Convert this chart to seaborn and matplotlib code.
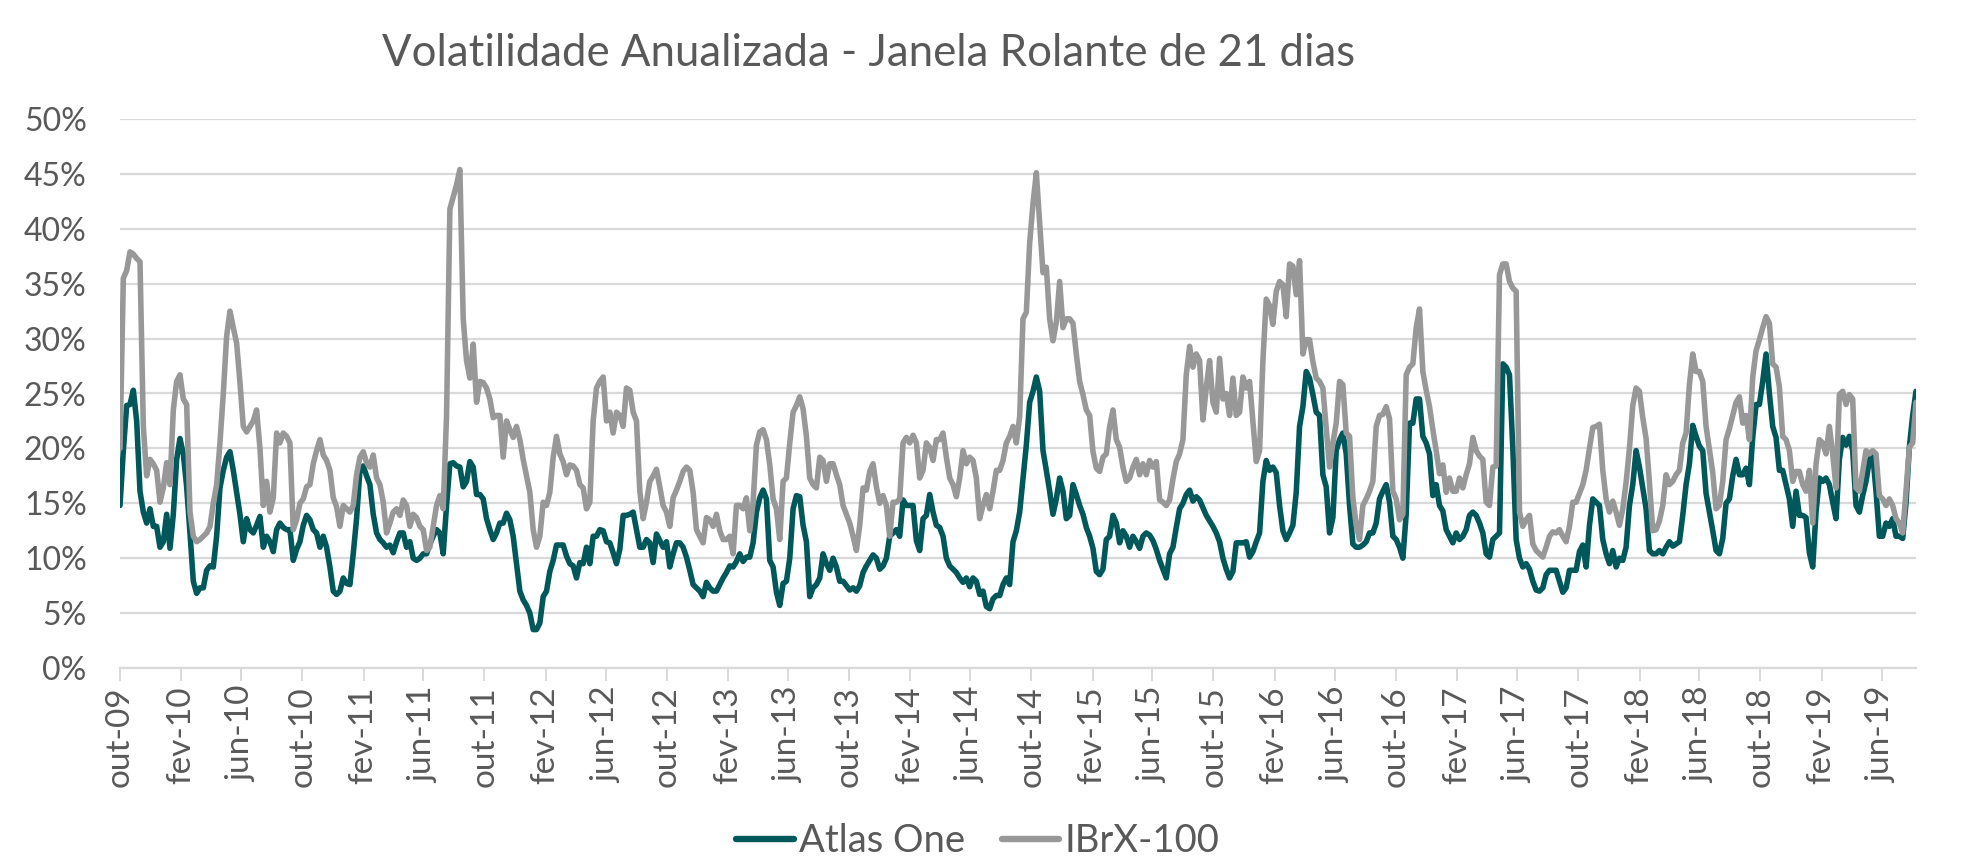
import pandas as pd
import matplotlib
matplotlib.use("Agg")
import matplotlib.pyplot as plt
from matplotlib.lines import Line2D
from matplotlib.ticker import FuncFormatter, MultipleLocator
import seaborn as sns

# ---------------- data ----------------
title = "Volatilidade Anualizada - Janela Rolante de 21 dias"
series_names = ["Atlas One", "IBrX-100"]
series_colors = ["#00585A", "#989898"]

first_date = "2009-10-01"
last_date = "2019-08-09"

# annualised 21-day volatility (%), read roughly every week
atlas_one = [
    14.8, 19.8, 23.9, 24.0, 25.3, 22.5, 16.1, 14.2, 13.2, 14.5,
    12.9, 12.9, 11.0, 11.5, 14.0, 10.9, 14.0, 19.0, 20.9, 19.5,
    16.5, 12.3, 7.9, 6.8, 7.3, 7.3, 8.9, 9.3, 9.2, 12.0,
    16.4, 18.0, 19.2, 19.7, 18.0, 16.0, 14.0, 11.5, 13.6, 12.6,
    12.3, 13.0, 13.8, 11.0, 12.0, 11.5, 10.6, 12.6, 13.2, 12.8,
    12.6, 12.6, 9.8, 10.8, 11.5, 13.0, 13.9, 13.5, 12.6, 12.3,
    11.0, 12.0, 11.0, 9.2, 7.0, 6.7, 7.0, 8.2, 7.7,
    7.6, 10.4, 13.6, 18.0, 18.4, 17.5, 16.7, 14.0, 12.3, 11.7,
    11.4, 11.0, 11.2, 10.5, 11.5, 12.3, 12.3, 11.0, 11.5, 10.0,
    9.8, 10.0, 10.4, 10.4, 11.3, 12.0, 12.6, 12.3, 10.4, 14.8,
    18.6, 18.7, 18.4, 18.3, 16.5, 17.0, 18.8, 18.3, 15.8, 15.8,
    15.4, 13.6, 12.6, 11.7, 12.3, 13.2, 13.2, 14.1, 13.5, 12.0,
    9.5, 7.0, 6.2, 5.7, 5.0, 3.5, 3.5, 4.1, 6.5, 7.0,
    8.8, 9.8, 11.2, 11.2, 11.2, 10.2, 9.5, 9.3, 8.2, 9.6,
    9.5, 11.0,
    9.5, 12.0, 12.0, 12.6, 12.5, 11.5, 11.4, 10.5, 9.5, 10.8,
    13.9, 13.9, 14.0, 14.2, 12.6, 11.0, 11.0, 11.7, 11.4, 9.6,
    12.2, 11.6, 11.0, 11.5, 9.2, 10.4, 11.4, 11.4, 11.0, 10.1,
    8.9, 7.6, 7.3, 7.0, 6.5, 7.8, 7.3, 7.0, 7.0, 7.6,
    8.2, 8.7, 9.3, 9.2, 9.7, 10.4, 9.7, 10.1, 10.1, 11.4,
    14.2, 15.5, 16.2, 15.4, 9.8, 9.2, 6.9, 5.7, 7.7, 7.9,
    10.0, 14.5, 15.7, 15.6, 13.0, 11.5, 6.5, 7.3, 7.6, 8.2,
    10.4, 9.5,
    8.9, 10.0, 9.2, 7.9, 7.9, 7.5, 7.1, 7.3, 7.0, 7.5,
    8.7, 9.3, 9.8, 10.3, 10.0, 9.0, 9.3, 10.0, 12.0, 12.3,
    12.6, 12.0, 15.3, 14.8, 14.8, 14.8, 11.6, 10.7, 13.6, 13.9,
    15.8, 14.2, 13.0, 12.8, 12.0, 10.0, 9.3, 9.0, 8.7, 8.2,
    7.8, 8.2, 7.4, 8.2, 7.9, 6.7, 7.0, 5.6, 5.4, 6.3,
    6.6, 6.6, 7.6, 8.2, 7.6, 11.5, 12.5, 14.2, 17.2, 20.3,
    24.2, 25.2, 26.5, 25.2, 19.8, 18.0, 16.1, 14.0, 15.4, 17.3,
    16.1, 13.6,
    13.9, 16.7, 15.8, 14.8, 14.0, 12.8, 12.0, 10.9, 8.8, 8.5,
    9.0, 11.7, 12.0, 13.9, 13.2, 11.4, 12.5, 12.0, 11.0, 12.0,
    11.5, 10.9, 12.0, 12.3, 12.1, 11.6, 10.8, 9.8, 9.0, 8.2,
    10.4, 11.0, 12.8, 14.5, 15.0, 15.8, 16.2, 15.2, 15.6, 15.3,
    14.6, 13.9, 13.4, 12.9, 12.3, 11.5, 10.0, 9.0, 8.2, 8.8,
    11.4, 11.4, 11.4, 11.5, 10.1, 10.6, 11.5, 12.3, 17.0, 18.9,
    18.0, 18.3, 17.8, 14.8, 12.5, 11.7, 12.3, 13.0, 16.0, 22.0,
    23.8, 27.0,
    26.4, 24.9, 23.3, 23.0, 17.6, 16.5, 12.3, 13.7, 19.8, 20.8,
    21.4, 19.5, 14.8, 11.3, 11.0, 11.0, 11.2, 11.5, 12.3, 12.3,
    13.2, 15.4, 16.1, 16.7, 15.1, 12.0, 11.7, 11.0, 10.0, 14.0,
    22.3, 22.3, 24.5, 24.5, 21.1, 20.5, 19.5, 15.7, 16.7, 14.8,
    14.3, 12.6, 12.0, 11.4, 12.3, 11.7, 12.0, 12.6, 13.9, 14.2,
    13.9, 13.2, 12.3, 10.4, 10.1, 11.7, 12.0, 12.3, 27.7, 27.4,
    26.7, 20.0, 11.7, 10.0, 9.2, 9.5, 9.0, 7.9, 7.1, 7.0,
    7.3, 8.5,
    8.9, 8.9, 8.9, 7.9, 6.9, 7.3, 8.9, 8.9, 8.9, 10.6,
    11.2, 9.2, 13.0, 15.4, 15.1, 14.8, 11.7, 10.4, 9.5, 10.7,
    9.2, 10.0, 9.8, 11.0, 14.8, 16.7, 19.8, 18.3, 16.4, 14.5,
    10.7, 10.4, 10.4, 10.7, 10.4, 11.0, 11.5, 11.1, 11.3, 11.5,
    13.9, 16.7, 18.6, 22.1, 21.1, 20.2, 19.8, 15.9, 14.2, 12.5,
    10.7, 10.4, 11.8, 15.0, 15.4, 17.5, 19.0, 17.6, 17.6, 18.2,
    16.7, 21.0, 24.0,
    24.0, 26.1, 28.6, 25.0, 22.0, 21.0, 18.0, 18.0, 16.7, 15.4,
    12.9, 16.1, 13.9, 13.9, 13.7, 10.5, 9.2, 14.2, 17.3, 17.0,
    17.3, 16.7, 15.1, 13.6, 19.0, 21.0, 20.3, 21.1, 19.8, 14.8,
    14.2, 15.7, 17.0, 18.9, 19.5, 16.1, 12.0, 12.0, 13.2, 12.9,
    13.6, 12.0, 12.0, 11.8, 15.0, 20.1, 23.0, 25.2,
]

ibrx_100 = [
    20.0, 35.5, 36.2, 37.9, 37.7, 37.3, 37.0, 22.0, 17.5, 19.0,
    18.6, 18.0, 15.1, 16.4, 18.7, 16.7, 23.5, 26.1, 26.7, 24.5,
    24.0, 14.2, 12.0, 11.5, 11.7, 12.0, 12.3, 12.9, 15.0, 16.7,
    20.5, 25.0, 30.2, 32.5, 31.0, 29.6, 26.0, 22.0, 21.5, 22.0,
    22.5, 23.5, 20.0, 14.8, 17.0, 14.2, 15.5, 21.4, 20.5, 21.4,
    21.1, 20.5, 12.6, 13.5, 15.0, 15.4, 16.5, 16.7, 18.6, 19.8,
    20.8, 19.4, 18.9, 18.0, 15.5, 14.7, 12.9, 14.8, 14.5,
    14.2, 14.8, 17.6, 19.2, 19.7, 18.7, 18.3, 19.4, 17.3, 16.7,
    15.1, 12.3, 13.2, 14.2, 14.5, 13.9, 15.3, 14.8, 12.9, 14.0,
    13.7, 12.9, 12.6, 10.7, 11.0, 12.9, 14.8, 15.7, 14.5, 23.0,
    41.8, 42.9, 44.0, 45.4, 31.8, 28.0, 26.4, 29.5, 24.2, 26.1,
    26.0, 25.5, 24.5, 22.8, 23.0, 23.0, 19.2, 22.5, 21.7, 21.0,
    22.0, 20.8, 19.0, 17.5, 16.0, 12.6, 11.0, 12.0, 15.1, 14.8,
    16.0, 19.2, 21.1, 19.5, 18.8, 17.6, 18.5, 18.4, 18.0, 16.7,
    16.4, 14.5,
    15.1, 22.5, 25.5, 26.1, 26.5, 22.5, 23.3, 21.4, 23.3, 23.0,
    22.0, 25.5, 25.3, 23.3, 22.5, 16.1, 13.6, 15.1, 17.0, 17.5,
    18.1, 16.5, 14.8, 14.2, 12.9, 15.5, 16.2, 17.0, 17.9, 18.3,
    18.0, 16.0, 12.6, 12.0, 11.4, 13.7, 13.5, 12.9, 14.0, 12.5,
    11.7, 11.7, 12.0, 10.4, 14.8, 14.8, 14.5, 15.5, 12.5, 15.1,
    20.3, 21.5, 21.7, 20.8, 18.5, 15.4, 14.5, 11.7, 17.0, 17.3,
    20.5, 23.3, 23.9, 24.7, 23.6, 21.1, 17.3, 16.7, 16.4, 19.2,
    18.9, 17.0,
    18.6, 18.6, 17.6, 16.7, 14.8, 14.0, 13.2, 12.0, 10.7, 13.0,
    16.4, 16.2, 17.9, 18.6, 16.5, 15.0, 15.7, 14.8, 12.0, 15.1,
    15.1, 15.4, 20.5, 21.0, 20.5, 21.2, 20.5, 17.3, 18.0, 20.5,
    20.1, 18.9, 20.8, 20.8, 21.4, 19.2, 17.3, 16.7, 15.6, 17.3,
    19.8, 18.6, 19.2, 18.9, 17.3, 13.6, 14.8, 15.8, 14.5, 16.1,
    18.0, 18.0, 18.9, 20.5, 21.1, 22.0, 20.5, 22.9, 31.8, 32.4,
    38.7, 42.3, 45.1, 40.5, 36.0, 36.5, 31.8, 29.8, 31.5, 35.2,
    31.0, 31.8,
    31.8, 31.4, 28.6, 26.1, 24.9, 23.5, 23.0, 19.7, 18.2, 17.9,
    19.2, 19.5, 22.0, 23.5, 20.8, 20.1, 18.3, 17.0, 17.3, 18.3,
    19.0, 17.6, 18.6, 17.6, 18.9, 18.3, 18.8, 15.3, 15.1, 14.8,
    15.3, 17.2, 18.8, 19.5, 20.8, 26.7, 29.3, 27.4, 28.6, 28.0,
    22.6, 25.5, 28.0, 24.2, 23.3, 28.2, 24.5, 25.0, 23.0, 26.4,
    23.0, 23.3, 26.5, 25.5, 26.1, 22.5, 18.8, 19.8, 28.0, 33.6,
    33.0, 31.3, 34.3, 35.2, 34.9, 32.0, 36.8, 36.6, 34.0, 37.1,
    28.6, 29.9,
    29.9, 27.9, 26.4, 26.1, 25.5, 21.8, 18.3, 20.5, 22.3, 26.1,
    25.8, 21.4, 21.1, 15.5, 13.0, 11.7, 14.8, 15.4, 16.1, 17.0,
    22.0, 23.0, 23.1, 23.8, 22.7, 16.1, 15.4, 13.5, 14.0, 26.7,
    27.4, 27.7, 31.0, 32.7, 27.0, 25.3, 23.8, 21.7, 19.8, 17.7,
    18.5, 16.0, 17.3, 16.1, 16.1, 17.3, 16.4, 17.6, 18.6, 21.0,
    19.8, 19.3, 19.0, 15.1, 14.8, 18.3, 18.4, 35.8, 36.8, 36.8,
    35.2, 34.6, 34.3, 14.2, 12.9, 13.5, 13.9, 11.3, 10.7, 10.4,
    10.1, 11.0,
    12.0, 12.4, 12.3, 12.6, 12.0, 11.5, 12.9, 15.1, 15.1, 15.9,
    16.7, 18.0, 20.0, 21.9, 22.0, 22.2, 18.0, 15.4, 14.2, 15.2,
    14.2, 13.0, 14.5, 16.9, 20.0, 23.9, 25.5, 25.2, 22.8, 20.9,
    16.9, 12.5, 12.6, 13.4, 14.8, 17.6, 16.7, 17.0, 17.6, 18.0,
    20.5, 21.4, 25.8, 28.6, 27.0, 27.0, 26.1, 22.0, 19.9, 17.8,
    14.5, 14.8, 17.0, 20.8, 21.8, 23.0, 24.2, 24.7, 22.3, 23.0,
    20.8, 26.5, 28.9,
    29.9, 31.0, 32.0, 31.4, 27.7, 27.4, 25.6, 21.1, 20.8, 19.8,
    17.0, 17.9, 17.9, 16.7, 16.1, 18.0, 13.2, 18.6, 20.8, 20.5,
    19.5, 22.0, 19.5, 16.4, 24.9, 25.2, 24.0, 24.9, 24.5, 16.4,
    16.1, 17.9, 19.8, 19.5, 19.8, 19.5, 15.7, 15.4, 14.8, 15.4,
    14.8, 13.6, 13.2, 12.3, 16.1, 20.1, 20.5, 24.2,
]

tick_labels = [
    "out-09", "fev-10", "jun-10", "out-10", "fev-11", "jun-11", "out-11",
    "fev-12", "jun-12", "out-12", "fev-13", "jun-13", "out-13", "fev-14",
    "jun-14", "out-14", "fev-15", "jun-15", "out-15", "fev-16", "jun-16",
    "out-16", "fev-17", "jun-17", "out-17", "fev-18", "jun-18", "out-18",
    "fev-19", "jun-19",
]

# ---------------- frame ----------------
dates = pd.date_range(first_date, last_date, periods=len(atlas_one))
df = pd.concat([
    pd.DataFrame({"data": dates, "vol": atlas_one, "serie": series_names[0]}),
    pd.DataFrame({"data": dates, "vol": ibrx_100, "serie": series_names[1]}),
], ignore_index=True)
tick_dates = pd.date_range(first_date, periods=len(tick_labels), freq="4MS")

# ---------------- style ----------------
sns.set_theme(style="white")
plt.rcParams["font.family"] = ["Lato", "DejaVu Sans"]
text_color = "#595959"
grid_color = "#D9D9D9"

fig = plt.figure(figsize=(19.74, 8.63), dpi=100)
ax = fig.add_axes([120 / 1974, 1 - 668 / 863, (1916 - 120) / 1974, (668 - 119) / 863])

sns.lineplot(
    data=df, x="data", y="vol", hue="serie", hue_order=series_names,
    palette=series_colors, estimator=None, linewidth=4.0, ax=ax,
    legend=False,
)
for ln in ax.get_lines():
    ln.set_solid_joinstyle("round")
    ln.set_solid_capstyle("round")

ax.set_xlim(pd.Timestamp(first_date), pd.Timestamp(last_date))
ax.set_ylim(0, 50)
ax.yaxis.set_major_locator(MultipleLocator(5))
ax.yaxis.set_major_formatter(FuncFormatter(lambda v, p: f"{v:.0f}%"))
ax.set_xticks(tick_dates)
ax.set_xticklabels(tick_labels, rotation=90)
ax.set_xlabel("")
ax.set_ylabel("")

ax.grid(axis="y", color=grid_color, linewidth=1.6)
ax.grid(axis="x", visible=False)
ax.set_axisbelow(True)
for s in ("top", "right", "left"):
    ax.spines[s].set_visible(False)
ax.spines["bottom"].set_color(grid_color)
ax.spines["bottom"].set_linewidth(1.6)

ax.tick_params(axis="y", length=0, pad=24, labelsize=23, labelcolor=text_color)
ax.tick_params(axis="x", length=9, width=1.4, color=grid_color, pad=4,
               labelsize=24, labelcolor=text_color, direction="out", bottom=True)

fig.text(869 / 1974, 1 - 53 / 863, title, ha="center", va="center",
         fontsize=31.5, color=text_color)

handles = [Line2D([0], [0], color=c, linewidth=4.6, solid_capstyle="round") for c in series_colors]
fig.legend(handles, series_names, loc="center", bbox_to_anchor=(978 / 1974, 1 - 841 / 863),
           ncol=2, frameon=False, fontsize=27.5, labelcolor=text_color,
           handlelength=1.5, handletextpad=0.15, columnspacing=0.95)

fig.savefig("out.png", dpi=100)
